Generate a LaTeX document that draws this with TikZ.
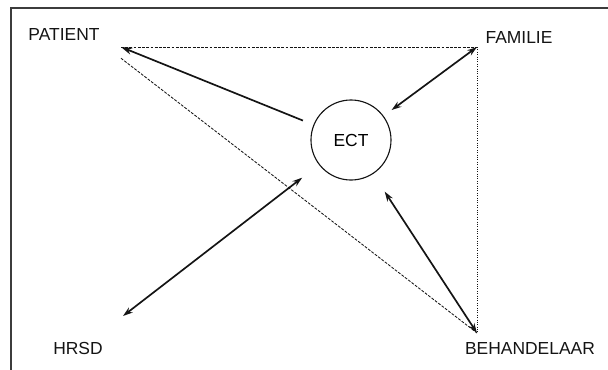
\documentclass[tikz,border=0pt]{standalone}
\usepackage{fontspec}
\setmainfont{Liberation Sans}
\usepackage{xcolor}
\usepackage{tikz}
\usetikzlibrary{
  positioning,
  arrows.meta
}
\definecolor{inkcolor}{RGB}{20,20,20}
\definecolor{framecolor}{RGB}{60,60,60}
\tikzset{
  rolelabel/.style={
    font=\fontsize{12.4}{14}\selectfont, inner sep=0pt, text=inkcolor
  },
  ectnode/.style={
    draw=inkcolor, circle, line width=0.8pt, minimum size=2cm,
    inner sep=0pt, font=\fontsize{12.4}{14}\selectfont
  },
  bigarrow/.style={
    {Stealth[length=7pt,width=4.5pt]}-{Stealth[length=7pt,width=4.5pt]},
    line width=1.2pt, draw=inkcolor
  },
  linkdash/.style={
    line width=0.6pt, draw=inkcolor, dash pattern=on 2pt off 1pt
  },
  linkdot/.style={
    line width=0.7pt, draw=inkcolor, dash pattern=on 0.7pt off 1pt
  }
}

\begin{document}
\begin{tikzpicture}[x=0.025cm, y=-0.025cm]
    \useasboundingbox (0,0) rectangle (608,370);

    % Frame
    \draw[framecolor, line width=1.4pt] (11,370) -- (11,8) -- (608,8);

    % Corner labels
    \node[rolelabel] (patient) at (64,34) {PATIENT};
    \node[rolelabel] (familie) at (519,37) {FAMILIE};
    \node[rolelabel] (hrsd) at (78,348) {HRSD};
    \node[rolelabel] (behandelaar) at (530,348) {BEHANDELAAR};

    % Line ends
    \coordinate (pat) at (121,47);
    \coordinate (fam) at (477,47);
    \coordinate (hr) at (123,316);
    \coordinate (beh) at (477,333);

    % Centre
    \node[ectnode] (ect) at (351,140) {ECT};

    % Dashed links
    \draw[linkdash] (pat) -- (fam);
    \draw[linkdot] (fam) -- (beh);
    \draw[linkdash] ([yshift=-8]pat) -- (beh);

    % Arrows to ECT
    \draw[bigarrow, -{Stealth[length=8pt,width=5pt]}, shorten <=8] (ect) -- (pat);
    \draw[bigarrow, shorten >=7] (fam) -- (ect);
    \draw[bigarrow, shorten >=15] (hr) -- (ect);
    \draw[bigarrow, shorten >=15] (beh) -- (ect);

\end{tikzpicture}
\end{document}
